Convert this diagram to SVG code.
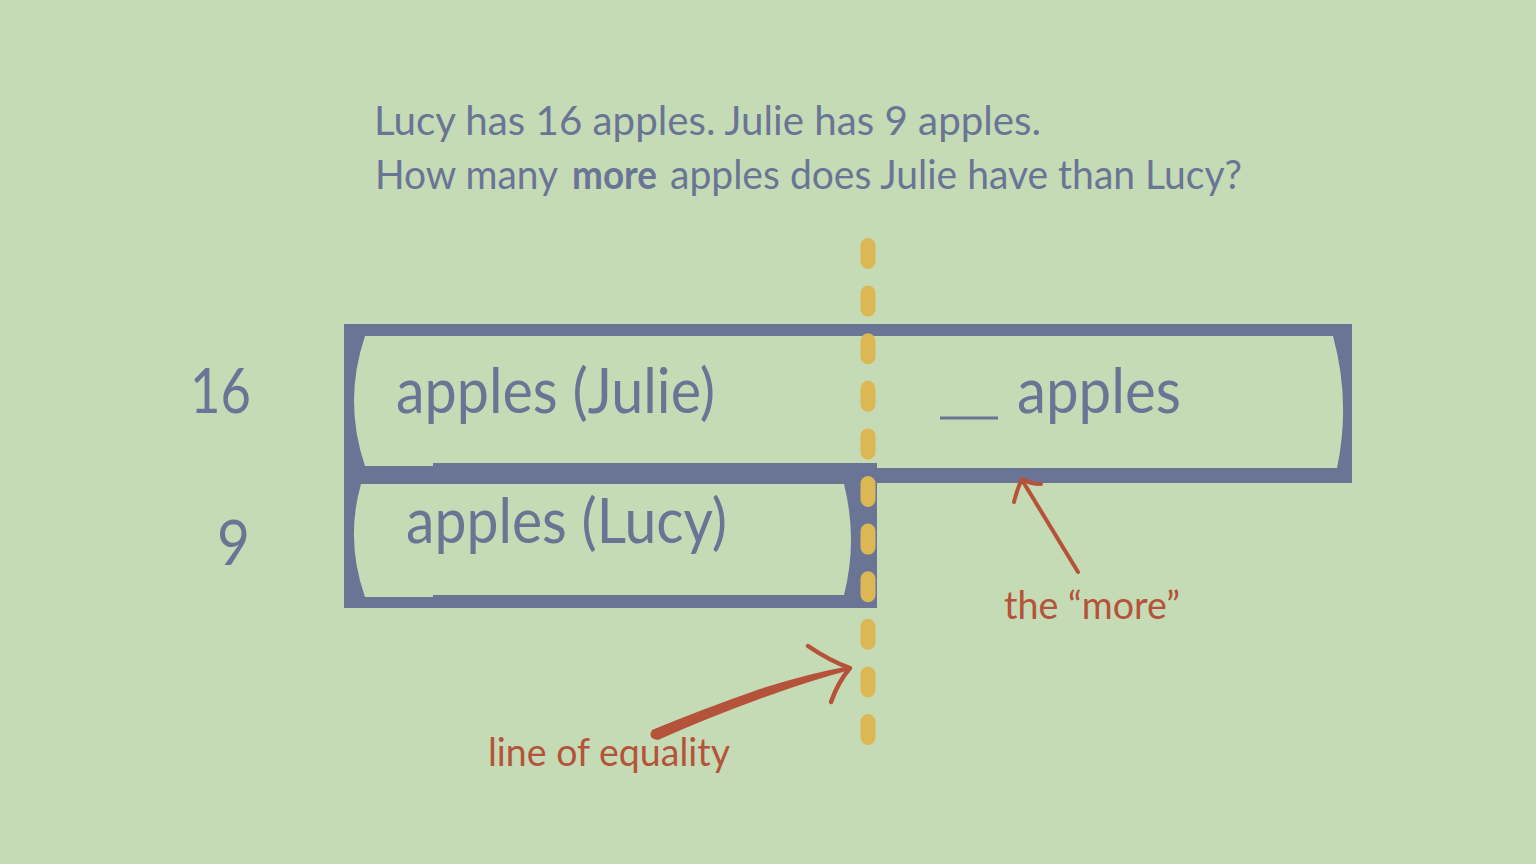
<svg xmlns="http://www.w3.org/2000/svg" width="1536" height="864" viewBox="0 0 1536 864">
<style>
.blue{fill:#6a7596}
.inner{fill:#c5dbb5}
.t{font-family:Lato,"Noto Sans","Liberation Sans",sans-serif;fill:#6a7596}
.r{font-family:Lato,"Noto Sans","Liberation Sans",sans-serif;fill:#b5533a}
.arrow{fill:none;stroke:#b5533a;stroke-linecap:round;stroke-linejoin:round}
</style>
<rect width="1536" height="864" fill="#c5dbb5"/>
<g id="question">
<text class="t" x="374" y="135" font-size="40" textLength="667" lengthAdjust="spacingAndGlyphs">Lucy has 16 apples. Julie has 9 apples.</text>
<text class="t" x="375" y="189" font-size="40" textLength="183" lengthAdjust="spacingAndGlyphs">How many</text>
<text class="t" x="572" y="189" font-size="40" font-weight="bold" textLength="85" lengthAdjust="spacingAndGlyphs">more</text>
<text class="t" x="670" y="189" font-size="40" textLength="572" lengthAdjust="spacingAndGlyphs">apples does Julie have than Lucy?</text>
</g>
<g id="label16">
<text class="t" x="190" y="413" font-size="62" textLength="61" lengthAdjust="spacingAndGlyphs">16</text>
</g>
<g id="label9">
<text class="t" x="217" y="565" font-size="62" textLength="33" lengthAdjust="spacingAndGlyphs">9</text>
</g>
<g id="bar-julie">
<path class="blue" d="M344,324 H1352 V483 H877 V608 H344 Z"/>
<path class="inner" d="M365,336 H1333 Q1351,402 1337,468 H877 V463 H433 V466 H365 Q343,401 365,336 Z"/>
<text class="t" x="396" y="413" font-size="62" textLength="319" lengthAdjust="spacingAndGlyphs">apples (Julie)</text>
</g>
<g id="bar-lucy">
<path class="inner" d="M361,484 H844 Q858,540 844,595 H433 V597 H365 Q345,540 361,484 Z"/>
<text class="t" x="406" y="543" font-size="62" textLength="321" lengthAdjust="spacingAndGlyphs">apples (Lucy)</text>
</g>
<g id="bar-more">
<line x1="940" y1="418" x2="998" y2="418" stroke="#6a7596" stroke-width="3"/>
<text class="t" x="1017" y="413" font-size="62" textLength="164" lengthAdjust="spacingAndGlyphs">apples</text>
</g>
<g id="line-of-equality">
<line x1="868" y1="245.5" x2="868" y2="737.5" stroke="#dcb855" stroke-width="15" stroke-linecap="round" stroke-dasharray="16 31.6"/>
</g>
<g id="connectors">
<path class="arrow" stroke-width="4" d="M1078,572 L1022,480"/>
<path class="arrow" stroke-width="4" d="M1014,502 Q1017,489 1022,479 Q1030,484 1041,484"/>
<path fill="#b5533a" d="M652,730 Q700,710 760,689 Q810,673 850,666 L850,670 Q812,680 765,697 Q705,719 658,740 Q647,739 652,730 Z"/>
<path class="arrow" stroke-width="4.5" d="M808,646 Q830,661 850,668 Q838,682 831,702"/>
</g>
<g id="label-more">
<text class="r" x="1004" y="619" font-size="38" textLength="176" lengthAdjust="spacingAndGlyphs">the “more”</text>
</g>
<g id="label-equality">
<text class="r" x="488" y="766" font-size="38" textLength="242" lengthAdjust="spacingAndGlyphs">line of equality</text>
</g>
</svg>
